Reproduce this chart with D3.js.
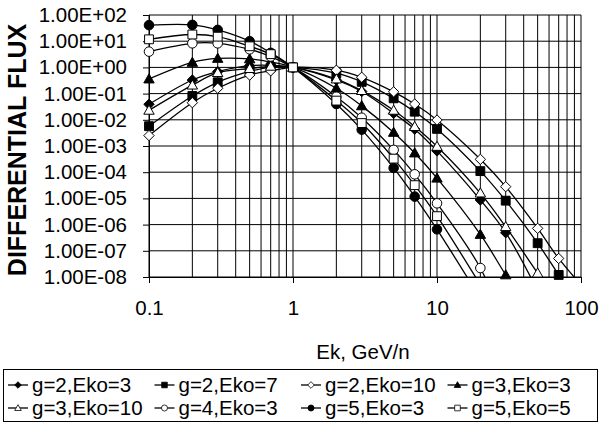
<!DOCTYPE html>
<html lang="en">
<head>
<meta charset="UTF-8" />
<script src="https://d3js.org/d3.v7.min.js"></script>
<title>Differential flux</title>
<style>
  body { margin: 0; background: #fff; }
  text { font-family: "Liberation Sans", Arial, sans-serif; fill: #000; }
</style>
</head>
<body>
<script type="text/javascript">
// energies, GeV/n
var ek = [0.1, 0.2, 0.3, 0.5, 0.7, 1, 2, 3, 5, 7, 10, 20, 30, 50, 70, 100];

// series values (same order as ek; last ones fall below the axis and get clipped)
var g2e3  = [0.039, 0.33, 0.69, 1.16, 1.2, 1, 0.33, 0.12, 0.0177, 0.0044, 6.5e-4, 8.7e-6, 4.9e-7, 3e-9];
var g2e7  = [0.0057, 0.081, 0.27, 0.7, 1.0, 1, 0.6, 0.28, 0.066, 0.0204, 0.0045, 1.1e-4, 8.2e-6, 1.95e-7, 1.2e-8, 6e-10];
var g2e10 = [0.0025, 0.045, 0.16, 0.51, 0.74, 1, 0.78, 0.42, 0.117, 0.04, 0.0098, 3.1e-4, 2.8e-5, 7.2e-7, 5.1e-8, 5e-9];
var g3e3  = [0.36, 1.55, 2.2, 2.1, 1.6, 1, 0.16, 0.034, 0.0033, 5.4e-4, 5.9e-5, 4.2e-7, 1.2e-8, 1.5e-10];
var g3e10 = [0.023, 0.21, 0.63, 0.9, 1.1, 1, 0.36, 0.13, 0.023, 0.0055, 9.6e-4, 1.6e-5, 8.3e-7, 1.4e-8, 1e-9];
var g4e3  = [4.0, 8.3, 8.3, 4.9, 2.6, 1, 0.076, 0.012, 7.1e-4, 8.3e-5, 6.5e-6, 2.2e-8, 1e-10];
var g5e3  = [41, 42, 27, 10, 3.6, 1, 0.04, 0.0042, 1.45e-4, 1.17e-5, 6.6e-7, 1.5e-9];
var g5e5  = [11.8, 18, 14.9, 6.4, 3.2, 1, 0.054, 0.0075, 3.3e-4, 3.2e-5, 2.1e-6, 5e-9];

var names   = ["g=2,Eko=3", "g=2,Eko=7", "g=2,Eko=10", "g=3,Eko=3",
               "g=3,Eko=10", "g=4,Eko=3", "g=5,Eko=3", "g=5,Eko=5"];
var seriesVals = [g2e3, g2e7, g2e10, g3e3, g3e10, g4e3, g5e3, g5e5];
var shapes  = ["diamond", "square", "diamond", "triangle", "triangle", "circle", "circle", "square"];
var filled  = [true, true, false, true, false, false, true, false];

var xTicks = [0.1, 1, 10, 100];
var yTicks = d3.range(-8, 3).map(function(p){ return Math.pow(10, p); });

var W = 601, H = 424;
var L = 149, R = 581, T = 15, B = 277;

var svg = d3.select("body").append("svg").attr("width", W).attr("height", H);

var x = d3.scaleLog().domain([0.1, 100]).range([L, R]);
var y = d3.scaleLog().domain([1e-8, 1e2]).range([B, T]);

// grid
svg.append("g").selectAll("line").data(x.ticks()).enter().append("line")
  .attr("x1", function(d){ return x(d); }).attr("x2", function(d){ return x(d); })
  .attr("y1", T).attr("y2", B).attr("stroke", "#000").attr("stroke-width", 1);
svg.append("g").selectAll("line").data(yTicks).enter().append("line")
  .attr("x1", L).attr("x2", R)
  .attr("y1", function(d){ return y(d); }).attr("y2", function(d){ return y(d); })
  .attr("stroke", "#000").attr("stroke-width", 1);

function sciFmt(d) {
  var e = Math.round(Math.log10(d));
  return "1.00E" + (e < 0 ? "-" : "+") + (Math.abs(e) < 10 ? "0" : "") + Math.abs(e);
}

var ya = svg.append("g").attr("transform", "translate(" + L + ",0)")
  .call(d3.axisLeft(y).tickValues(yTicks).tickFormat(sciFmt).tickSize(6).tickPadding(16));
var xa = svg.append("g").attr("transform", "translate(0," + B + ")")
  .call(d3.axisBottom(x).tickValues(xTicks).tickFormat(d3.format("~g")).tickSize(6).tickPadding(17));
[ya, xa].forEach(function(a){
  a.selectAll("text").style("font-size", "20.5px").style("font-family", '"Liberation Sans", Arial, sans-serif');
  a.selectAll("line,path").attr("stroke", "#000");
});

svg.append("text").attr("x", 363).attr("y", 359).attr("text-anchor", "middle")
  .style("font-size", "20.5px").text("Ek, GeV/n");
svg.append("text").attr("transform", "translate(26,150) rotate(-90)").attr("text-anchor", "middle")
  .style("font-size", "25px").style("font-weight", "bold").text("DIFFERENTIAL FLUX");

// markers
function markerPath(shape, s) {
  if (shape === "diamond") return "M0," + (-s) + "L" + s + ",0L0," + s + "L" + (-s) + ",0Z";
  if (shape === "square") { var q = s * 0.85; return "M" + (-q) + "," + (-q) + "H" + q + "V" + q + "H" + (-q) + "Z"; }
  if (shape === "triangle") return "M0," + (-s) + "L" + s + "," + (s * 0.75) + "L" + (-s) + "," + (s * 0.75) + "Z";
  var r = s * 0.92;
  return "M" + (-r) + ",0A" + r + "," + r + " 0 1,0 " + r + ",0A" + r + "," + r + " 0 1,0 " + (-r) + ",0Z";
}

svg.append("clipPath").attr("id", "plot").append("rect")
  .attr("x", L).attr("y", T).attr("width", R - L).attr("height", B - T);

var line = d3.line().x(function(d){ return x(d[0]); }).y(function(d){ return y(d[1]); })
  .curve(d3.curveCatmullRom.alpha(0.5));

var series = seriesVals.map(function(v, i){
  return { name: names[i], shape: shapes[i], filled: filled[i],
           pts: v.map(function(val, j){ return [ek[j], val]; }) };
});

var lines = svg.append("g").attr("clip-path", "url(#plot)");
series.forEach(function(s){
  lines.append("path").datum(s.pts).attr("d", line)
    .attr("fill", "none").attr("stroke", "#000").attr("stroke-width", 1.3);
});

series.forEach(function(s){
  svg.append("g").selectAll("path").data(s.pts.filter(function(p){ return p[1] >= 1e-8; }))
    .enter().append("path")
    .attr("transform", function(p){ return "translate(" + x(p[0]) + "," + y(p[1]) + ")"; })
    .attr("d", markerPath(s.shape, 5.2))
    .attr("fill", s.filled ? "#000" : "#fff").attr("stroke", "#000").attr("stroke-width", 1);
});

// legend
var lg = svg.append("g");
lg.append("rect").attr("x", 3.5).attr("y", 369.5).attr("width", 594).attr("height", 52)
  .attr("fill", "#fff").attr("stroke", "#000").attr("stroke-width", 1);
var colW = 146.5;
series.forEach(function(s, i){
  var cx = 4 + (i % 4) * colW, cy = 385 + Math.floor(i / 4) * 23;
  var it = lg.append("g").attr("transform", "translate(" + cx + "," + cy + ")");
  it.append("line").attr("x1", 4).attr("x2", 24).attr("stroke", "#000").attr("stroke-width", 1.3);
  it.append("path").attr("transform", "translate(14,0)").attr("d", markerPath(s.shape, 3.3))
    .attr("fill", s.filled ? "#000" : "#fff").attr("stroke", "#000").attr("stroke-width", 0.8);
  it.append("text").attr("x", 28).attr("y", 7.3).style("font-size", "20.5px").text(s.name);
});
</script>
</body>
</html>
